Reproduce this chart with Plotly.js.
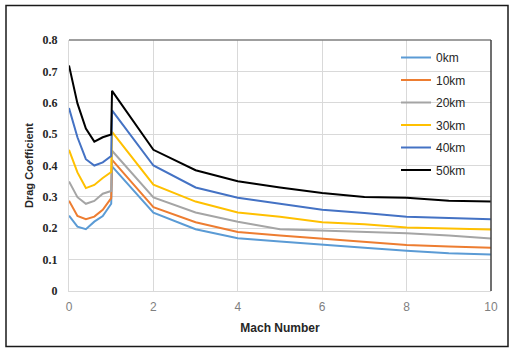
<!DOCTYPE html>
<html>
<head>
<meta charset="utf-8">
<script src="https://cdn.plot.ly/plotly-3.0.1.min.js"></script>
<style>
  html, body { margin: 0; padding: 0; background: #fff; }
  #chart { width: 509px; height: 348px; }
</style>
</head>
<body>
<div id="chart"></div>
<script>
const mach = [0, 0.2, 0.4, 0.6, 0.8, 1.0, 1.02, 2, 3, 4, 5, 6, 7, 8, 9, 10];
const seriesNames = ["0km", "10km", "20km", "30km", "40km", "50km"];
const cd0km  = [0.24, 0.205, 0.197, 0.221, 0.239, 0.278, 0.397, 0.25, 0.197, 0.168, 0.158, 0.147, 0.138, 0.128, 0.12, 0.116];
const cd10km = [0.288, 0.239, 0.229, 0.237, 0.259, 0.296, 0.418, 0.267, 0.219, 0.188, 0.177, 0.167, 0.158, 0.147, 0.142, 0.138];
const cd20km = [0.349, 0.299, 0.278, 0.287, 0.31, 0.319, 0.447, 0.298, 0.25, 0.221, 0.197, 0.193, 0.188, 0.184, 0.177, 0.167];
const cd30km = [0.45, 0.378, 0.328, 0.338, 0.36, 0.379, 0.507, 0.339, 0.285, 0.25, 0.237, 0.219, 0.213, 0.202, 0.199, 0.196];
const cd40km = [0.583, 0.49, 0.42, 0.40, 0.41, 0.43, 0.576, 0.40, 0.33, 0.297, 0.278, 0.259, 0.249, 0.237, 0.233, 0.229];
const cd50km = [0.719, 0.598, 0.518, 0.476, 0.49, 0.499, 0.638, 0.45, 0.385, 0.35, 0.33, 0.312, 0.30, 0.297, 0.288, 0.285];
const seriesValues = [cd0km, cd10km, cd20km, cd30km, cd40km, cd50km];
const colors = ["#5B9BD5", "#ED7D31", "#A5A5A5", "#FFC000", "#4472C4", "#000000"];
const xTicks = [0, 2, 4, 6, 8, 10];
const yTicks = [0, 0.1, 0.2, 0.3, 0.4, 0.5, 0.6, 0.7, 0.8];

const traces = seriesNames.map((n, i) => ({
  x: mach, y: seriesValues[i], name: n, type: "scatter", mode: "lines",
  legendgroup: "g" + i,
  line: { color: colors[i], width: 2 }
}));

// plot area: left 69, right 491, top 40, bottom 291
const L = 69, R = 491, T = 40, B = 291;
const px = v => (v - L) / (R - L);
const py = v => (B - v) / (B - T);

const layout = {
  width: 509, height: 348,
  margin: { l: L, r: 509 - R, t: T, b: 348 - B },
  paper_bgcolor: "#fff", plot_bgcolor: "#fff",
  font: { family: "Liberation Sans, Arial, sans-serif", size: 11, color: "#595959" },
  showlegend: true,
  legend: {
    x: px(396), y: py(43), xanchor: "left", yanchor: "top",
    bgcolor: "rgba(0,0,0,0)", tracegroupgap: 3.5,
    font: { size: 12, color: "#262626", family: "Liberation Sans, Arial, sans-serif" },
    itemwidth: 30
  },
  xaxis: {
    range: [0, 10], tickvals: xTicks, ticktext: xTicks.map(String),
    showgrid: true, gridcolor: "#D9D9D9", gridwidth: 1,
    zeroline: false, showline: true, linecolor: "#D9D9D9", linewidth: 1,
    ticks: "", ticklen: 0, ticklabelstandoff: 5,
    tickfont: { size: 12, color: "#7F7F7F" },
    title: { text: "<b>Mach Number</b>", font: { size: 12, color: "#262626" }, standoff: 10 }
  },
  yaxis: {
    range: [0, 0.8], tickvals: yTicks, ticktext: yTicks.map(v => "<b>" + String(v) + "</b>"),
    showgrid: true, gridcolor: "#D9D9D9", gridwidth: 1,
    zeroline: false, showline: true, linecolor: "#D9D9D9", linewidth: 1,
    ticks: "", ticklen: 0, ticklabelstandoff: 8,
    tickfont: { size: 12, color: "#262626", family: "Liberation Serif, Times New Roman, serif" },
    title: { text: "<b>Drag Coefficient</b>", font: { size: 11, color: "#262626" }, standoff: 6 }
  },
  shapes: [
    { type: "line", xref: "paper", yref: "paper", x0: 0, x1: 1, y0: 1, y1: 1, line: { color: "#7F7F7F", width: 1.5 } },
    { type: "line", xref: "paper", yref: "paper", x0: 1, x1: 1, y0: 0, y1: 1, line: { color: "#404040", width: 1.5 } },
    { type: "rect", xref: "paper", yref: "paper", x0: px(6), x1: px(508), y0: py(346.5), y1: py(5.5), line: { color: "#1a1a1a", width: 1.5 }, fillcolor: "rgba(0,0,0,0)" }
  ]
};

Plotly.newPlot("chart", traces, layout, { staticPlot: true, displayModeBar: false });
</script>
</body>
</html>
